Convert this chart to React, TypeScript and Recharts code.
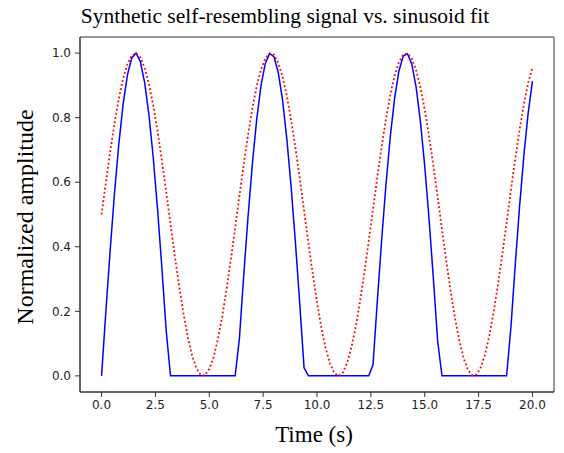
import React from 'react';
import { LineChart, Line, XAxis, YAxis, ReferenceArea } from 'recharts';

// sample times (s)
const times = [
  0.0, 0.2, 0.4, 0.6, 0.8, 1.0, 1.2, 1.4, 1.6, 1.8,
  2.0, 2.2, 2.4, 2.6, 2.8, 3.0, 3.2, 3.4, 3.6, 3.8,
  4.0, 4.2, 4.4, 4.6, 4.8, 5.0, 5.2, 5.4, 5.6, 5.8,
  6.0, 6.2, 6.4, 6.6, 6.8, 7.0, 7.2, 7.4, 7.6, 7.8,
  8.0, 8.2, 8.4, 8.6, 8.8, 9.0, 9.2, 9.4, 9.6, 9.8,
  10.0, 10.2, 10.4, 10.6, 10.8, 11.0, 11.2, 11.4, 11.6, 11.8,
  12.0, 12.2, 12.4, 12.6, 12.8, 13.0, 13.2, 13.4, 13.6, 13.8,
  14.0, 14.2, 14.4, 14.6, 14.8, 15.0, 15.2, 15.4, 15.6, 15.8,
  16.0, 16.2, 16.4, 16.6, 16.8, 17.0, 17.2, 17.4, 17.6, 17.8,
  18.0, 18.2, 18.4, 18.6, 18.8, 19.0, 19.2, 19.4, 19.6, 19.8,
  20.0,
];

// blue: the self-resembling signal (clipped humps)
const signal = [
  0, 0.199, 0.389, 0.565, 0.717, 0.841, 0.932, 0.985, 1.0, 0.974,
  0.909, 0.809, 0.676, 0.516, 0.335, 0.141, 0, 0, 0, 0,
  0, 0, 0, 0, 0, 0, 0, 0, 0, 0,
  0, 0, 0.117, 0.312, 0.494, 0.657, 0.794, 0.899, 0.968, 0.999,
  0.989, 0.941, 0.855, 0.734, 0.585, 0.412, 0.223, 0.025, 0, 0,
  0, 0, 0, 0, 0, 0, 0, 0, 0, 0,
  0, 0, 0, 0.034, 0.232, 0.42, 0.592, 0.74, 0.859, 0.944,
  0.991, 0.998, 0.966, 0.895, 0.788, 0.65, 0.487, 0.303, 0.108, 0,
  0, 0, 0, 0, 0, 0, 0, 0, 0, 0,
  0, 0, 0, 0, 0, 0.15, 0.343, 0.523, 0.682, 0.814,
  0.913,
];

// red dotted: sinusoid fit
const fit = [
  0.5, 0.599, 0.695, 0.782, 0.859, 0.921, 0.966, 0.993, 1.0, 0.987,
  0.955, 0.904, 0.838, 0.758, 0.668, 0.571, 0.471, 0.372, 0.279, 0.194,
  0.122, 0.064, 0.024, 0.003, 0.002, 0.021, 0.058, 0.114, 0.184, 0.268,
  0.36, 0.458, 0.558, 0.656, 0.747, 0.829, 0.897, 0.949, 0.984, 0.999,
  0.995, 0.97, 0.927, 0.867, 0.792, 0.706, 0.611, 0.512, 0.413, 0.317,
  0.228, 0.15, 0.086, 0.039, 0.009, 0.0, 0.01, 0.04, 0.089, 0.153,
  0.232, 0.321, 0.417, 0.517, 0.616, 0.71, 0.796, 0.87, 0.93, 0.972,
  0.995, 0.999, 0.983, 0.947, 0.894, 0.825, 0.743, 0.652, 0.554, 0.454,
  0.356, 0.264, 0.181, 0.111, 0.056, 0.019, 0.002, 0.004, 0.026, 0.066,
  0.125, 0.198, 0.283, 0.377, 0.475, 0.575, 0.672, 0.762, 0.841, 0.907,
  0.956,
];

const xTicks = [0, 2.5, 5, 7.5, 10, 12.5, 15, 17.5, 20];
const yTicks = [0, 0.2, 0.4, 0.6, 0.8, 1.0];

const data = times.map((t, i) => ({ t, signal: signal[i], fit: fit[i] }));

const tickStyle = { fontSize: 12, fill: '#222', fontFamily: 'DejaVu Sans' };
const serif = '"Liberation Serif", "Times New Roman", serif';

export default function App() {
  return (
    <div style={{ position: 'absolute', left: 0, top: 0, width: 564, height: 453, background: '#fff' }}>
      <LineChart width={564} height={453} data={data} margin={{ top: 37, right: 10, left: 40, bottom: 31 }}>
        <XAxis
          type="number"
          dataKey="t"
          domain={[-1, 21]}
          ticks={xTicks}
          tickFormatter={(v: number) => v.toFixed(1)}
          height={30}
          tick={tickStyle}
          tickSize={5}
          tickMargin={3}
          stroke="#333"
          allowDataOverflow
        />
        <YAxis
          type="number"
          domain={[-0.05, 1.05]}
          ticks={yTicks}
          tickFormatter={(v: number) => v.toFixed(1)}
          width={40}
          tick={tickStyle}
          tickSize={5}
          tickMargin={4}
          stroke="#333"
          allowDataOverflow
        />
        <ReferenceArea x1={-1} x2={21} y1={-0.05} y2={1.05} fill="none" stroke="#333" strokeWidth={1} />
        <Line type="linear" dataKey="signal" stroke="#0000ff" strokeWidth={1.5} dot={false} isAnimationActive={false} />
        <Line
          type="linear"
          dataKey="fit"
          stroke="#ff0000"
          strokeWidth={1.8}
          strokeDasharray="1.8 2.4"
          dot={false}
          isAnimationActive={false}
        />
      </LineChart>
      <svg width={564} height={453} style={{ position: 'absolute', left: 0, top: 0, pointerEvents: 'none' }}>
        <text x={285} y={23} textAnchor="middle" fontFamily={serif} fontSize={21.5} fill="#000">
          Synthetic self-resembling signal vs. sinusoid fit
        </text>
        <text x={314} y={442} textAnchor="middle" fontFamily={serif} fontSize={23} fill="#000">
          Time (s)
        </text>
        <text transform="translate(33,217) rotate(-90)" textAnchor="middle" fontFamily={serif} fontSize={24} fill="#000">
          Normalized amplitude
        </text>
      </svg>
    </div>
  );
}
